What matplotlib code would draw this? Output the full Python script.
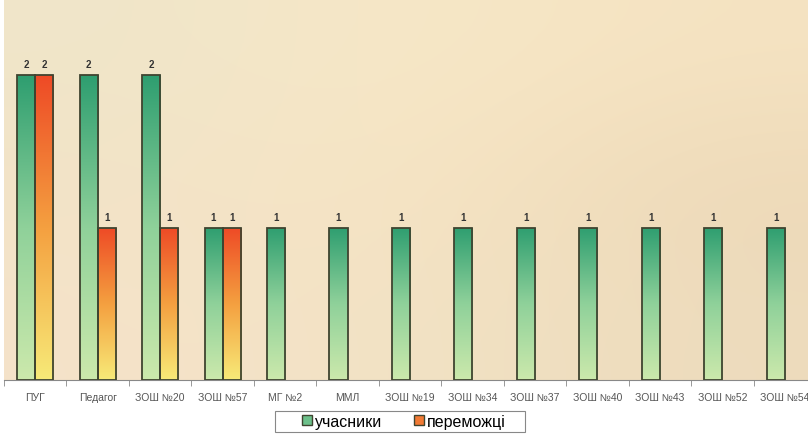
import numpy as np
import matplotlib
matplotlib.use("Agg")
import matplotlib.pyplot as plt
from matplotlib.colors import LinearSegmentedColormap
from matplotlib.patches import Rectangle
from matplotlib.lines import Line2D

categories = ["ПУГ", "Педагог", "ЗОШ №20", "ЗОШ №57", "МГ №2", "ММЛ", "ЗОШ №19",
              "ЗОШ №34", "ЗОШ №37", "ЗОШ №40", "ЗОШ №43", "ЗОШ №52", "ЗОШ №54"]
participants = [2, 2, 2, 1, 1, 1, 1, 1, 1, 1, 1, 1, 1]
winners = [2, 1, 1, 1, 0, 0, 0, 0, 0, 0, 0, 0, 0]
series_names = ["учасники", "переможці"]

plt.rcParams['font.family'] = ['Liberation Sans', 'DejaVu Sans']

fig = plt.figure(figsize=(8.08, 4.35), dpi=100)
fig.patch.set_facecolor("white")
ax = fig.add_axes([4/808, 54/435, 812/808, 381/435])

# background gradient
bg = np.array([
    [[0.94, 0.90, 0.79], [0.97, 0.91, 0.78], [0.96, 0.89, 0.76]],
    [[0.95, 0.89, 0.78], [0.97, 0.90, 0.77], [0.93, 0.85, 0.72]],
    [[0.96, 0.89, 0.79], [0.95, 0.89, 0.77], [0.93, 0.86, 0.74]],
])
ax.imshow(bg, extent=[0, 1, 0, 1], transform=ax.transAxes, aspect='auto',
          interpolation='bicubic', zorder=0)

green_cmap = LinearSegmentedColormap.from_list("g", ["#cce9ac", "#8fd19a", "#2e9e70"])
red_cmap = LinearSegmentedColormap.from_list("r", ["#f7ea78", "#f4a040", "#ee4a26"])

w = 0.29
x = np.arange(len(categories))
grad = np.linspace(0, 1, 256).reshape(-1, 1)

def draw_bars(xs, vals, cmap):
    bars = ax.bar(xs, vals, width=w, align='edge', facecolor='none',
                  edgecolor='#3f4430', linewidth=1.3, zorder=3)
    for b, v in zip(bars, vals):
        if v <= 0:
            b.set_visible(False)
            continue
        x0, y0 = b.get_x(), b.get_y()
        im = ax.imshow(grad, extent=[x0, x0 + b.get_width(), y0, y0 + b.get_height()],
                       origin='lower', cmap=cmap, aspect='auto', zorder=2,
                       interpolation='bilinear')
        im.set_clip_path(b)
        ax.text(x0 + b.get_width() / 2, v + 0.04, str(v), ha='center', va='bottom',
                fontsize=7, fontweight='bold', color='#333333', zorder=4)
    return bars

draw_bars(x - w, participants, green_cmap)
draw_bars(x, winners, red_cmap)

ax.set_xlim(-0.5, len(categories) - 0.5)
ax.set_ylim(0, 2.5)
ax.set_xticks(x)
ax.set_xticklabels(categories, fontsize=7.5, color='#555555')
ax.set_xticks(np.arange(-0.5, len(categories), 1), minor=True)
ax.tick_params(axis='x', which='major', length=0, pad=9)
ax.tick_params(axis='x', which='minor', length=4, color='#888888', direction='out')
ax.set_yticks([])
for s in ['top', 'right', 'left']:
    ax.spines[s].set_visible(False)
ax.spines['bottom'].set_color('#888888')
ax.spines['bottom'].set_linewidth(0.8)

# legend
fig.patches.append(Rectangle((275/808, 2/435), 250/808, 21/435, transform=fig.transFigure,
                             facecolor='white', edgecolor='#888888', linewidth=0.8))
handles = [Line2D([], [], marker='s', linestyle='none', markersize=7,
                  markerfacecolor='#6cc08a', markeredgecolor='#3f4430'),
           Line2D([], [], marker='s', linestyle='none', markersize=7,
                  markerfacecolor='#f27a34', markeredgecolor='#3f4430')]
fig.legend(handles, series_names, loc='center', bbox_to_anchor=(404/808, 12.5/435),
           ncol=2, frameon=False, fontsize=11.5, handlelength=0.6, handletextpad=0.2,
           columnspacing=2.0, borderpad=0)

fig.savefig("out.png", dpi=100)
